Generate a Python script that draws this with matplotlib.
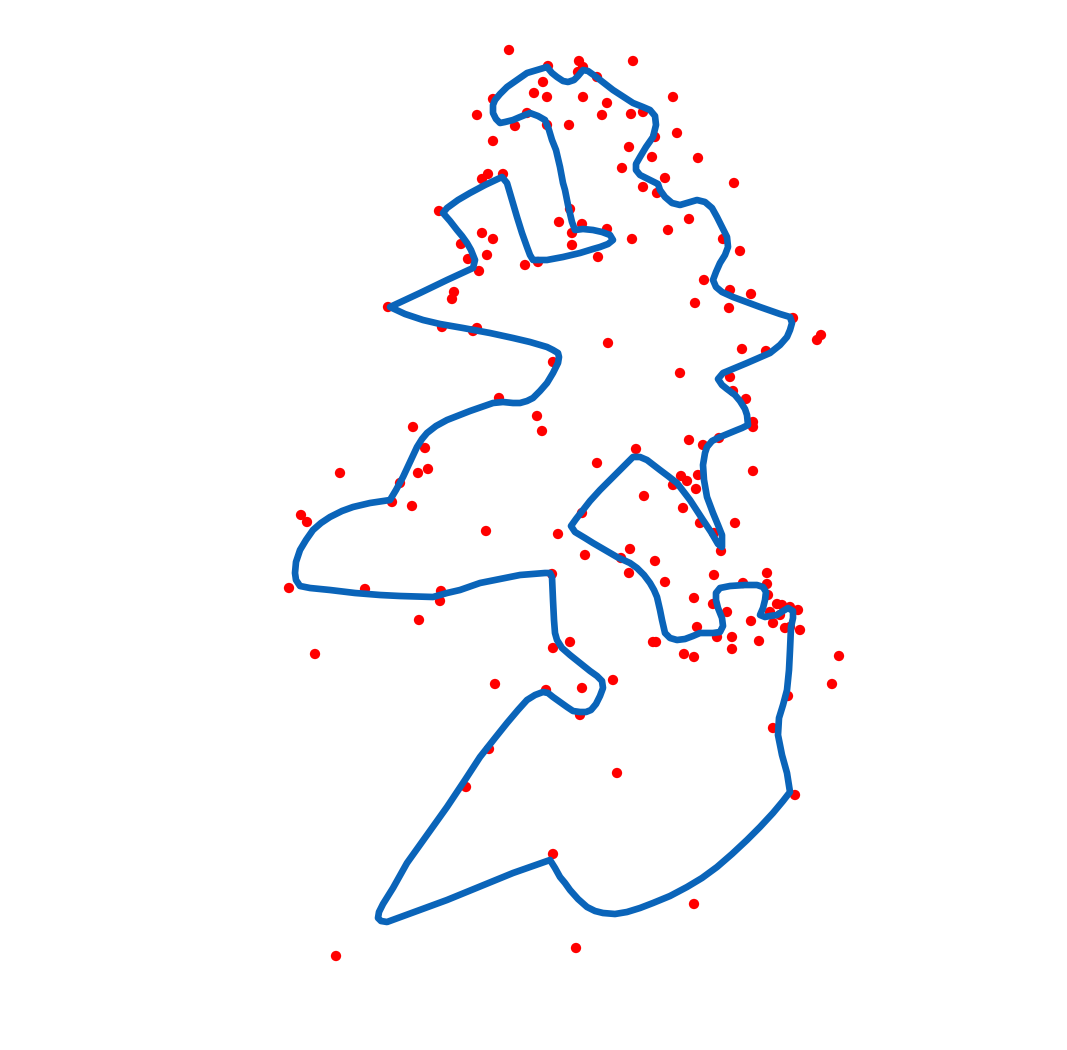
import matplotlib.pyplot as plt
import numpy as np

# blue closed curve, traced in pixel coords (y downward), clockwise from the top peak
curve_top = [(547, 67), (552, 73), (557, 77), (563, 81), (568, 82), (574, 80), (578, 76), (583, 70),
             (588, 71), (595, 76), (613, 90), (633, 103), (643, 107), (650, 110), (655, 116),
             (656, 125), (653, 137), (646, 147), (640, 157), (636, 164), (636, 170), (640, 175),
             (650, 180), (658, 184), (660, 190), (665, 197), (672, 203), (680, 205), (690, 202),
             (697, 200), (705, 202), (712, 208), (717, 217), (722, 227), (727, 237), (728, 247),
             (725, 255), (720, 263), (716, 272), (713, 280), (716, 287), (722, 292), (733, 297),
             (760, 307), (780, 314), (790, 317), (792, 323), (790, 330), (787, 337), (780, 345),
             (770, 353), (747, 363), (723, 373), (718, 379), (722, 385), (727, 389), (735, 395),
             (740, 401), (745, 409), (747, 415), (748, 425), (742, 428), (737, 430), (720, 437),
             (712, 441), (707, 447), (705, 453), (703, 465), (704, 480), (707, 497), (713, 513),
             (718, 525), (722, 535), (722, 547)]
curve_mid = [(718, 544), (711, 532), (703, 520), (690, 500), (677, 483), (668, 476), (660, 470),
             (647, 460), (640, 457), (633, 457), (627, 463), (620, 470), (610, 480), (600, 490),
             (590, 501), (583, 510), (576, 519), (571, 526), (575, 532), (585, 538), (593, 543),
             (605, 550), (617, 557), (630, 563), (637, 568), (644, 575), (650, 583), (654, 590),
             (657, 597), (660, 610), (662, 620), (665, 633), (670, 638), (677, 640), (685, 639),
             (693, 636), (700, 633), (713, 633), (720, 632), (723, 626), (722, 618), (718, 608),
             (716, 600), (716, 593), (720, 588), (730, 586), (745, 585), (757, 585), (763, 587),
             (766, 592), (765, 600), (763, 608), (760, 615), (765, 617), (770, 616), (777, 615),
             (783, 611), (788, 608), (793, 611), (793, 618), (791, 627), (790, 650), (789, 670),
             (787, 690), (783, 705), (779, 718), (778, 735), (782, 755), (787, 773), (790, 792)]
curve_bottom = [(783, 801), (773, 813), (760, 827), (747, 840), (732, 854), (717, 867), (702, 878),
                (687, 887), (670, 896), (653, 903), (640, 908), (627, 912), (615, 914), (603, 913),
                (595, 911), (587, 907), (578, 899), (570, 890), (565, 883), (560, 877), (555, 868),
                (550, 860), (513, 873), (447, 900), (387, 922), (381, 921), (378, 918), (379, 912),
                (383, 904), (393, 888), (407, 863), (427, 835), (447, 807), (465, 780), (480, 757),
                (495, 738), (507, 723), (518, 710), (527, 700), (535, 695), (543, 692), (548, 693),
                (553, 697), (560, 702), (567, 707), (573, 711), (580, 712), (586, 712), (591, 710),
                (596, 704), (600, 696), (603, 688), (602, 681), (597, 676), (590, 671), (580, 663),
                (570, 655), (562, 648), (557, 640), (555, 633), (554, 620)]
curve_left = [(553, 600), (552, 577), (550, 573), (545, 573), (520, 575), (500, 579), (480, 583),
              (460, 590), (447, 593), (433, 597), (400, 596), (380, 595), (355, 593), (330, 590),
              (310, 588), (300, 586), (296, 580), (295, 573), (296, 562), (300, 550), (306, 540),
              (313, 530), (321, 523), (330, 517), (342, 511), (353, 507), (370, 503), (390, 500),
              (396, 490), (403, 477), (410, 462), (417, 447), (422, 439), (427, 433), (436, 426),
              (447, 420), (470, 411), (493, 403), (503, 402), (513, 403), (520, 403), (527, 401),
              (533, 398), (540, 391), (547, 383), (553, 373), (558, 363), (559, 357), (558, 353),
              (553, 350), (547, 347), (530, 342), (513, 338), (490, 333), (463, 328), (440, 324),
              (423, 320), (405, 314), (390, 307), (405, 300), (420, 293), (447, 280), (473, 268),
              (475, 260), (471, 250), (467, 243), (462, 236), (457, 230), (450, 221), (443, 213),
              (447, 208), (458, 200), (470, 193), (485, 185), (502, 177), (507, 183), (512, 200),
              (517, 217), (522, 233), (527, 247), (530, 255), (533, 260), (540, 260), (547, 260),
              (563, 257), (580, 253), (593, 249), (600, 247), (608, 244), (613, 240), (610, 235),
              (602, 232), (593, 230), (583, 229), (575, 230), (572, 222), (568, 205), (565, 190),
              (563, 183), (560, 167), (556, 150), (552, 140), (549, 130), (545, 120), (538, 116),
              (530, 113), (520, 117), (513, 120), (505, 122), (500, 123), (496, 119), (493, 113),
              (493, 105), (495, 100), (500, 94), (507, 87), (517, 80), (527, 73), (537, 70), (547, 67)]

# red sample points
pts_x = [509, 548, 579, 583, 578, 633, 597, 543, 534, 547, 583, 607, 493, 673, 477, 527,
         602, 631, 643, 515, 547, 569, 677, 655, 493, 629, 652, 698, 622, 488, 482, 503,
         665, 734, 643, 657, 439, 570, 559, 582, 572, 572, 607, 632, 598, 689, 668, 482,
         493, 461, 487, 468, 525, 538, 479, 454, 452, 388, 723, 740, 704, 730, 751, 695,
         729, 793, 821, 817, 442, 477, 473,
         608, 742, 766, 553, 680, 730, 733, 746, 753, 753, 499, 537, 542, 413, 425, 428,
         418, 340, 400, 392, 412, 301, 307, 486, 558, 689, 703, 719, 636, 597, 753, 681,
         687, 698, 673, 696, 644, 683, 582, 735, 700, 714, 721, 585, 630, 621, 655, 629,
         665, 714, 694, 767, 743, 767, 768, 713, 727, 777, 782, 790, 798, 770, 780, 751,
         773, 785, 790, 800, 697, 717, 732, 759, 732, 653, 656, 684, 694, 289, 365, 441,
         440, 552, 419,
         570, 553, 315, 839, 613, 582, 495, 546, 832, 788, 580, 773, 489, 466, 617, 795,
         553, 694, 576, 336]
pts_y = [50, 66, 61, 67, 72, 61, 77, 82, 93, 97, 97, 103, 99, 97, 115, 113,
         115, 114, 112, 126, 125, 125, 133, 137, 141, 147, 157, 158, 168, 174, 179, 174,
         178, 183, 187, 193, 211, 209, 222, 224, 233, 245, 229, 239, 257, 219, 230, 233,
         239, 244, 255, 259, 265, 262, 271, 292, 299, 307, 239, 251, 280, 290, 294, 303,
         308, 318, 335, 340, 327, 328, 331,
         343, 349, 351, 362, 373, 377, 391, 399, 422, 427, 398, 416, 431, 427, 448, 469,
         473, 473, 483, 502, 506, 515, 522, 531, 534, 440, 445, 438, 449, 463, 471, 476,
         481, 475, 485, 489, 496, 508, 513, 523, 523, 533, 551, 555, 549, 558, 561, 573,
         582, 575, 598, 573, 583, 584, 595, 604, 612, 604, 605, 607, 610, 612, 615, 621,
         623, 628, 627, 630, 627, 637, 637, 641, 649, 642, 642, 654, 657, 588, 589, 591,
         601, 574, 620,
         642, 648, 654, 656, 680, 688, 684, 690, 684, 696, 715, 728, 749, 787, 773, 795,
         854, 904, 948, 956]

curve = np.array(curve_top + curve_mid + curve_bottom + curve_left)

fig = plt.figure(figsize=(10.67, 10.5), dpi=100)
ax = fig.add_axes([0, 0, 1, 1])

ax.scatter(pts_x, pts_y, s=55, color='#ff0000', edgecolors='none', zorder=2)
ax.plot(curve[:, 0], curve[:, 1], color='#0a64b9', linewidth=4.8,
        solid_joinstyle='round', solid_capstyle='round', zorder=3)

ax.set_xlim(0, 1067)
ax.set_ylim(1050, 0)
ax.axis('off')

fig.savefig('out.png', dpi=100)
